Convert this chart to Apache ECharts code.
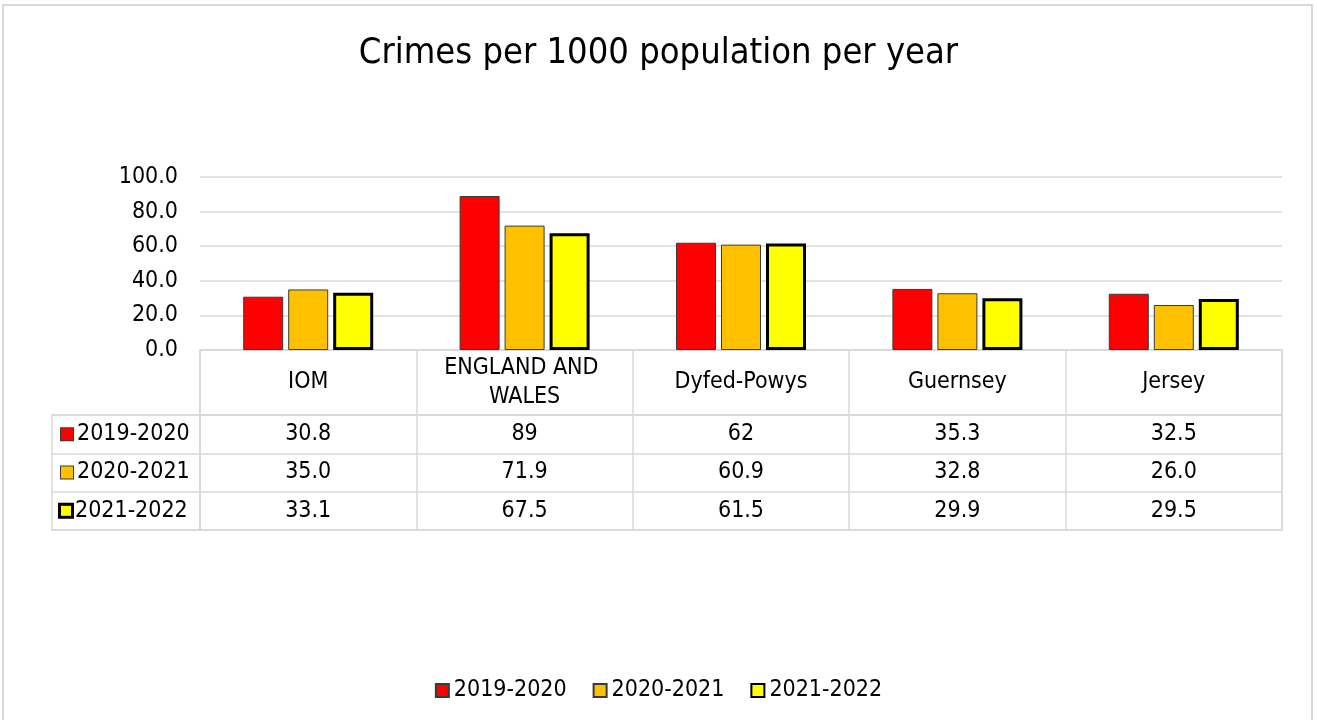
<!DOCTYPE html>
<html>
<head>
<meta charset="utf-8">
<title>Crimes per 1000 population per year</title>
<script src="https://cdn.jsdelivr.net/npm/echarts@6/dist/echarts.min.js"></script>
<style>
  html, body { margin: 0; padding: 0; background: #fff; }
  #chart { width: 1317px; height: 720px; }
</style>
</head>
<body>
<div id="chart"></div>
<script>
// data
const categories = ['IOM', 'ENGLAND AND WALES', 'Dyfed-Powys', 'Guernsey', 'Jersey'];
const years = ['2019-2020', '2020-2021', '2021-2022'];
// kept as text so the table shows them the way the source did (89, 35.0 ...)
const crimes2019 = ['30.8', '89', '62', '35.3', '32.5'];
const crimes2020 = ['35.0', '71.9', '60.9', '32.8', '26.0'];
const crimes2021 = ['33.1', '67.5', '61.5', '29.9', '29.5'];
const yearValues = [crimes2019, crimes2020, crimes2021];

const FONT = '"DejaVu Sans Condensed", "DejaVu Sans", Verdana, sans-serif';
const FS = 23;
const LINE = '#d9d9d9';

const styles = [
  { color: '#ff0000', borderColor: '#3a3a3a', borderWidth: 1 },
  { color: '#ffc000', borderColor: '#3a3a3a', borderWidth: 1 },
  { color: '#ffff00', borderColor: '#000000', borderWidth: 3 }
];

const chart = echarts.init(document.getElementById('chart'));

// text cells of the table (col, row, text)
let cells = [];
yearValues.forEach((vals, r) => {
  vals.forEach((v, c) => cells.push([c, r, v]));
});

let rich = {};
styles.forEach((s, i) => {
  rich['m' + i] = {
    width: i === 2 ? 10 : 12, height: i === 2 ? 10 : 12,
    backgroundColor: s.color,
    borderColor: s.borderColor,
    borderWidth: i === 2 ? 3 : 1
  };
});
rich.t = { fontSize: FS, fontFamily: FONT, color: '#000', padding: [0, 0, 0, 4] };

const option = {
  animation: false,
  textStyle: { fontFamily: FONT },
  title: {
    text: 'Crimes per 1000 population per year',
    left: 'center',
    top: 31,
    textStyle: { fontSize: 36, fontWeight: 'normal', color: '#000', fontFamily: FONT }
  },
  legend: {
    data: years,
    top: 674,
    left: 'center',
    itemWidth: 13,
    itemHeight: 13,
    itemGap: 26,
    icon: 'rect',
    textStyle: { fontSize: FS, color: '#000', fontFamily: FONT }
  },
  graphic: [{
    type: 'rect',
    shape: { x: 3, y: 5, width: 1309, height: 730 },
    style: { fill: 'none', stroke: LINE, lineWidth: 2 },
    silent: true
  }],
  grid: [
    // bars
    { left: 200, right: 35, top: 177, height: 173 },
    // header row with category names
    { left: 200, right: 35, top: 350, height: 65, show: true, borderColor: LINE, borderWidth: 1.5 },
    // value rows
    { left: 200, right: 35, top: 415, height: 115, show: true, borderColor: LINE, borderWidth: 1.5 },
    // series name column
    { left: 52, width: 148, top: 415, height: 115, show: true, borderColor: LINE, borderWidth: 1.5 }
  ],
  xAxis: [
    {
      gridIndex: 0, type: 'category', data: categories,
      axisLine: { lineStyle: { color: LINE, width: 1.5 } },
      axisTick: { show: false }, axisLabel: { show: false }
    },
    {
      gridIndex: 1, type: 'category', data: categories,
      axisLine: { show: false }, axisTick: { show: false }, axisLabel: { show: false },
      splitLine: { show: true, lineStyle: { color: LINE, width: 1.5 } }
    },
    {
      gridIndex: 2, type: 'category', data: categories,
      axisLine: { show: false }, axisTick: { show: false }, axisLabel: { show: false },
      splitLine: { show: true, lineStyle: { color: LINE, width: 1.5 } }
    },
    { gridIndex: 3, type: 'value', show: false }
  ],
  yAxis: [
    {
      gridIndex: 0, type: 'value', min: 0, max: 100, interval: 20,
      axisLine: { show: false }, axisTick: { show: false },
      axisLabel: {
        fontSize: FS, color: '#000', margin: 22,
        formatter: v => v.toFixed(1)
      },
      splitLine: { lineStyle: { color: LINE, width: 1.5 } }
    },
    { gridIndex: 1, type: 'value', min: 0, max: 1, show: false },
    {
      gridIndex: 2, type: 'category', data: years, inverse: true,
      axisLine: { show: false }, axisTick: { show: false }, axisLabel: { show: false },
      splitLine: { show: true, lineStyle: { color: LINE, width: 1.5 } }
    },
    {
      gridIndex: 3, type: 'category', data: years, inverse: true,
      axisLine: { show: false }, axisTick: { show: false },
      axisLabel: {
        inside: true, margin: 9,
        formatter: (v, i) => '{m' + i + '|}{t|' + v + '}',
        rich: rich
      },
      splitLine: { show: true, lineStyle: { color: LINE, width: 1.5 } }
    }
  ],
  series: [
    ...years.map((y, i) => ({
      name: y,
      type: 'bar',
      xAxisIndex: 0, yAxisIndex: 0,
      barWidth: 40,
      barGap: '12.5%',
      itemStyle: styles[i],
      data: yearValues[i]
    })),
    {
      // category names in the header row
      type: 'custom',
      xAxisIndex: 1, yAxisIndex: 1,
      silent: true,
      data: categories.map((c, i) => [i, 0.5]),
      renderItem: (params, api) => {
        const p = api.coord([api.value(0), api.value(1)]);
        return {
          type: 'text', x: p[0], y: p[1],
          style: {
            text: categories[params.dataIndex],
            width: 180, overflow: 'break',
            lineHeight: 29,
            font: FS + 'px ' + FONT, fill: '#000',
            align: 'center', verticalAlign: 'middle'
          }
        };
      }
    },
    {
      // values in the table
      type: 'custom',
      xAxisIndex: 2, yAxisIndex: 2,
      silent: true,
      data: cells.map(d => [d[0], d[1]]),
      renderItem: (params, api) => {
        const p = api.coord([api.value(0), api.value(1)]);
        return {
          type: 'text', x: p[0], y: p[1],
          style: {
            text: cells[params.dataIndex][2],
            font: FS + 'px ' + FONT, fill: '#000',
            align: 'center', verticalAlign: 'middle'
          }
        };
      }
    }
  ]
};

chart.setOption(option);
window.addEventListener('resize', () => chart.resize());
</script>
</body>
</html>
